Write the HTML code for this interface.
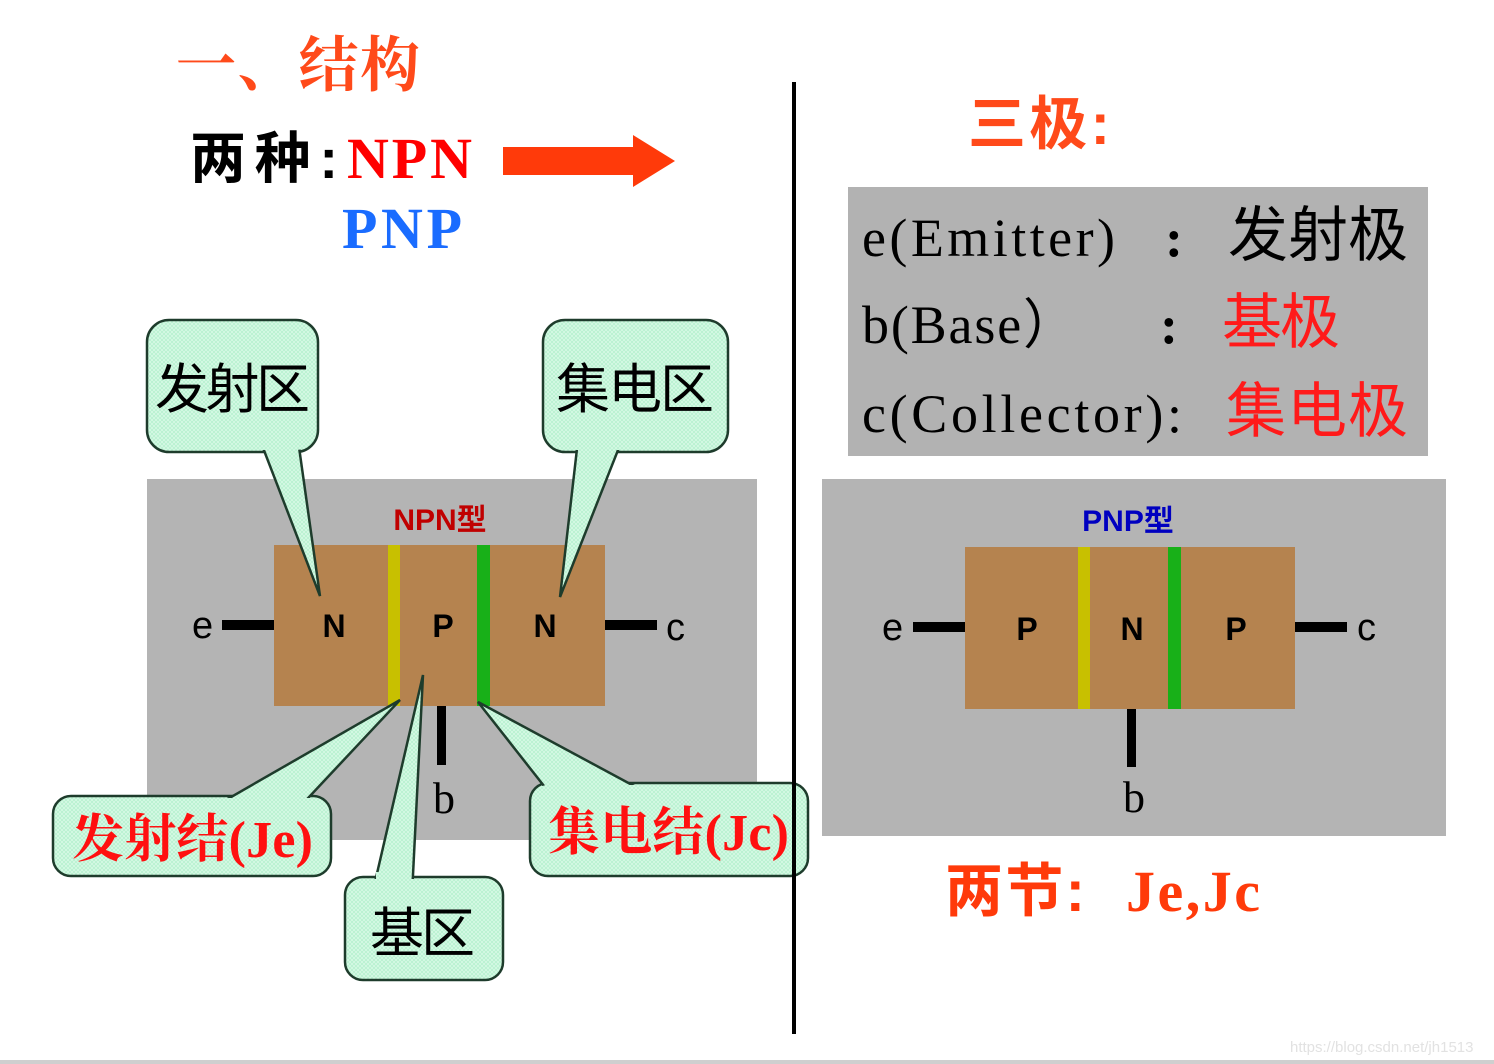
<!DOCTYPE html>
<html><head><meta charset="utf-8"><style>
html,body{margin:0;padding:0;background:#fff;}
svg{display:block;}
.cs{font-family:"Liberation Serif","Noto Serif CJK SC",serif;}
.ck{font-family:"Liberation Sans","Noto Sans CJK SC",sans-serif;}
</style></head><body>
<svg width="1494" height="1064" viewBox="0 0 1494 1064" xmlns="http://www.w3.org/2000/svg">
<defs>
<pattern id="hatch" width="4" height="4" patternUnits="userSpaceOnUse">
<rect width="4" height="4" fill="#b6f0cf"/>
<path d="M0 0L4 4M4 0L0 4" stroke="#d8fae6" stroke-width="0.8"/>
</pattern>
</defs>
<text x="176" y="86" class="cs" font-size="60" font-weight="bold" fill="#ff4a1a" textLength="244">一、结构</text>
<text x="190" y="178" class="ck" font-size="56" font-weight="bold" fill="#000" textLength="148">两种:</text>
<text x="347" y="178" font-family="Liberation Serif" font-weight="bold" font-size="58" fill="#ff0000" textLength="125">NPN</text>
<text x="342" y="248" font-family="Liberation Serif" font-weight="bold" font-size="58" fill="#1a6cff" textLength="120">PNP</text>
<polygon points="503,147 633,147 633,135 675,161 633,187 633,175 503,175" fill="#ff3a0a"/>
<rect x="792" y="82" width="4" height="952" fill="#000"/>
<text x="968" y="144" class="ck" font-size="58" font-weight="bold" fill="#ff4a1a" textLength="142">三极:</text>
<rect x="848" y="187" width="580" height="269" fill="#b2b2b2"/>
<text x="862" y="256" font-family="Liberation Serif" font-size="54" fill="#000" textLength="253">e(Emitter)</text>
<text x="1165" y="256" class="cs" font-size="54" font-weight="bold" fill="#000">:</text>
<text x="1228" y="256" class="ck" font-size="60" fill="#000" textLength="180">发射极</text>
<text x="862" y="343" font-family="Liberation Serif" font-size="54" fill="#000" textLength="215">b(Base）</text>
<text x="1160" y="343" class="cs" font-size="54" font-weight="bold" fill="#000">:</text>
<text x="1222" y="343" class="ck" font-size="60" fill="#ff1a1a" textLength="118">基极</text>
<text x="862" y="432" font-family="Liberation Serif" font-size="54" fill="#000" textLength="320">c(Collector):</text>
<text x="1226" y="432" class="ck" font-size="60" fill="#ff1a1a" textLength="182">集电极</text>
<!-- left panel -->
<rect x="147" y="479" width="610" height="361" fill="#b4b4b4"/>
<rect x="274" y="545" width="331" height="161" fill="#b5834f"/>
<rect x="388" y="545" width="12" height="161" fill="#c8c000"/>
<rect x="477" y="545" width="13" height="161" fill="#18b018"/>
<text x="440" y="530" class="ck" text-anchor="middle" font-size="30" font-weight="bold" fill="#c00000">NPN型</text>
<text x="334" y="637" class="ck" text-anchor="middle" font-size="32" font-weight="bold" fill="#000">N</text>
<text x="443" y="637" class="ck" text-anchor="middle" font-size="32" font-weight="bold" fill="#000">P</text>
<text x="545" y="637" class="ck" text-anchor="middle" font-size="32" font-weight="bold" fill="#000">N</text>
<rect x="222" y="620" width="52" height="10" fill="#000"/>
<text x="192" y="638" class="ck" font-size="38" fill="#000">e</text>
<rect x="605" y="620" width="52" height="10" fill="#000"/>
<text x="666" y="640" class="ck" font-size="38" fill="#000">c</text>
<rect x="437" y="706" width="9" height="59" fill="#000"/>
<text x="433" y="813" font-family="Liberation Serif" font-size="44" fill="#000">b</text>
<!-- right panel -->
<rect x="822" y="479" width="624" height="357" fill="#b4b4b4"/>
<rect x="965" y="547" width="330" height="162" fill="#b5834f"/>
<rect x="1078" y="547" width="12" height="162" fill="#c8c000"/>
<rect x="1168" y="547" width="13" height="162" fill="#18b018"/>
<text x="1128" y="531" class="ck" text-anchor="middle" font-size="30" font-weight="bold" fill="#0000c0">PNP型</text>
<text x="1027" y="640" class="ck" text-anchor="middle" font-size="32" font-weight="bold" fill="#000">P</text>
<text x="1132" y="640" class="ck" text-anchor="middle" font-size="32" font-weight="bold" fill="#000">N</text>
<text x="1236" y="640" class="ck" text-anchor="middle" font-size="32" font-weight="bold" fill="#000">P</text>
<rect x="913" y="622" width="52" height="10" fill="#000"/>
<text x="882" y="640" class="ck" font-size="38" fill="#000">e</text>
<rect x="1295" y="622" width="52" height="10" fill="#000"/>
<text x="1357" y="640" class="ck" font-size="38" fill="#000">c</text>
<rect x="1127" y="709" width="9" height="58" fill="#000"/>
<text x="1123" y="812" font-family="Liberation Serif" font-size="44" fill="#000">b</text>
<text x="945" y="911" class="ck" font-size="58" font-weight="bold" fill="#ff3a0a" textLength="140">两节:</text>
<text x="1126" y="911" font-family="Liberation Serif" font-weight="bold" font-size="58" fill="#ff3a0a" textLength="134">Je,Jc</text>
<!-- callouts -->
<g stroke="#1e3c2c" stroke-width="2.5" fill="url(#hatch)">
<rect x="147" y="320" width="171" height="132" rx="22"/>
<rect x="543" y="320" width="185" height="132" rx="22"/>
<rect x="53" y="796" width="278" height="80" rx="18"/>
<rect x="345" y="877" width="158" height="103" rx="18"/>
<rect x="530" y="783" width="278" height="93" rx="18"/>
<polygon points="260,440 298,440 320,596"/>
<polygon points="578,440 622,440 560,597"/>
<polygon points="205,812 295,812 400,700"/>
<polygon points="372,895 412,895 423,675"/>
<polygon points="555,800 660,800 478,702"/>
</g>
<g fill="url(#hatch)">
<rect x="149" y="322" width="167" height="128" rx="20"/>
<rect x="545" y="322" width="181" height="128" rx="20"/>
<rect x="55" y="798" width="274" height="76" rx="16"/>
<rect x="347" y="879" width="154" height="99" rx="16"/>
<rect x="532" y="785" width="274" height="89" rx="16"/>
<rect x="268" y="446" width="28" height="10"/>
<rect x="580" y="446" width="33" height="10"/>
<rect x="242" y="793" width="64" height="7"/>
<rect x="376" y="872" width="34" height="9"/>
<rect x="546" y="781" width="70" height="7"/>
</g>
<text x="155" y="408" class="ck" font-size="54" fill="#000" textLength="155">发射区</text>
<text x="556" y="408" class="ck" font-size="54" fill="#000" textLength="158">集电区</text>
<text x="370" y="952" class="ck" font-size="54" fill="#000" textLength="105">基区</text>
<text x="72" y="857" class="cs" font-weight="bold" font-size="52" fill="#ff1010" textLength="241">发射结(Je)</text>
<text x="548" y="850" class="cs" font-weight="bold" font-size="52" fill="#ff1010" textLength="241">集电结(Jc)</text>
<rect x="792" y="780" width="4" height="100" fill="#000"/>
<text x="1290" y="1052" font-family="Liberation Sans" font-size="15" fill="#e2e2e2">https://blog.csdn.net/jh1513</text>
<rect x="0" y="1060" width="1494" height="4" fill="#cfcfcf"/>
</svg>
</body></html>
